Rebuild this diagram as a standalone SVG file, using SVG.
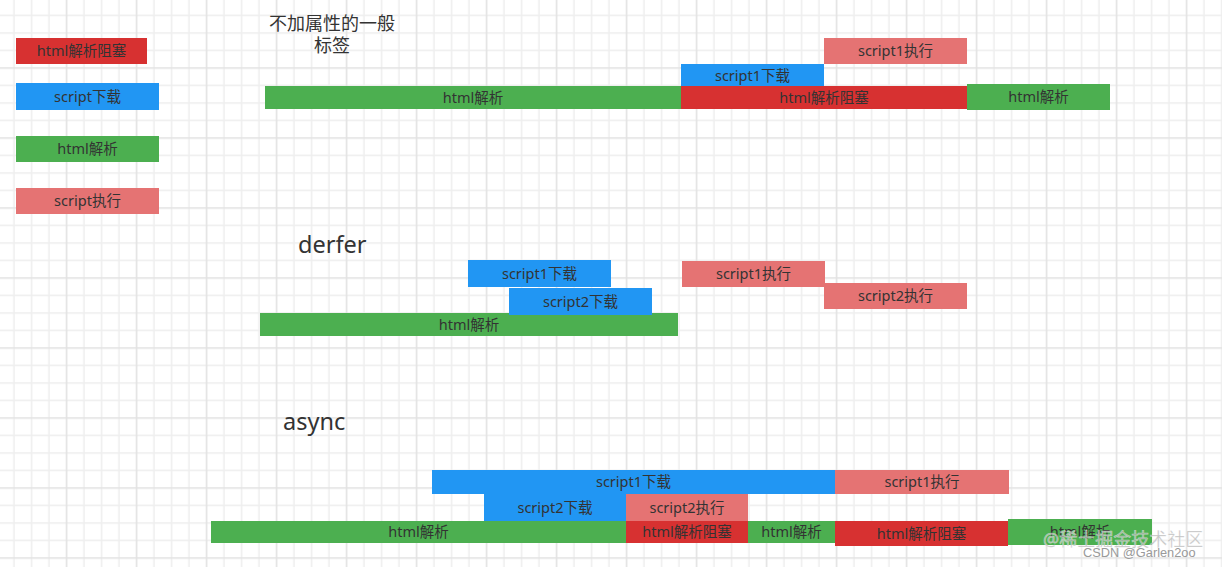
<svg xmlns="http://www.w3.org/2000/svg" width="1222" height="567" viewBox="0 0 1222 567">
<style>
.t{font-family:"Noto Sans","Noto Sans CJK SC",sans-serif;font-size:14.5px;fill:#333;text-anchor:middle}
.red{fill:#d73131}
.blue{fill:#2196f3}
.green{fill:#4caf50}
.pink{fill:#e57373}
.title{font-family:"Noto Sans","Noto Sans CJK SC",sans-serif;fill:#333}
</style>
<defs>
<pattern id="grid" patternUnits="userSpaceOnUse" x="-12.25" y="-10.75" width="70" height="70">
<path d="M26.25 0V70M43.75 0V70M61.25 0V70M0 26.25H70M0 43.75H70M0 61.25H70" stroke="#eeeeee" stroke-width="1.5" fill="none"/>
<path d="M8.75 0V70M0 8.75H70" stroke="#e2e2e2" stroke-width="1.6" fill="none"/>
</pattern>
</defs>
<rect width="1222" height="567" fill="#ffffff"/>
<rect width="1222" height="567" fill="url(#grid)"/>

<g id="legend">
<g id="legend-block"><rect class="red" x="16" y="38" width="131" height="26"/><text class="t" x="81.5" y="56">html解析阻塞</text></g>
<g id="legend-download"><rect class="blue" x="16" y="83" width="143" height="27"/><text class="t" x="87.5" y="101.5">script下载</text></g>
<g id="legend-parse"><rect class="green" x="16" y="136" width="143" height="26"/><text class="t" x="87.5" y="154">html解析</text></g>
<g id="legend-exec"><rect class="pink" x="16" y="188" width="143" height="26"/><text class="t" x="87.5" y="206">script执行</text></g>
</g>

<g id="section-normal">
<text class="title" x="332" y="30" font-size="18" text-anchor="middle">不加属性的一般</text>
<text class="title" x="332" y="52" font-size="18" text-anchor="middle">标签</text>
<g id="n-parse1"><rect class="green" x="265" y="86" width="416" height="23"/><text class="t" x="473" y="102.5">html解析</text></g>
<g id="n-dl1"><rect class="blue" x="681" y="64" width="143" height="22"/><text class="t" x="752.5" y="81">script1下载</text></g>
<g id="n-block"><rect class="red" x="681" y="86" width="286" height="23"/><text class="t" x="824" y="102.5">html解析阻塞</text></g>
<g id="n-exec1"><rect class="pink" x="824" y="38" width="143" height="26"/><text class="t" x="895.5" y="56">script1执行</text></g>
<g id="n-parse2"><rect class="green" x="967" y="84" width="143" height="26"/><text class="t" x="1038.5" y="102">html解析</text></g>
</g>

<g id="section-defer">
<text class="title" x="298" y="253" font-size="23.5">derfer</text>
<g id="d-parse"><rect class="green" x="260" y="313" width="418" height="23"/><text class="t" x="469" y="329.5">html解析</text></g>
<g id="d-dl1"><rect class="blue" x="468" y="260" width="143" height="27"/><text class="t" x="539.5" y="278.5">script1下载</text></g>
<g id="d-dl2"><rect class="blue" x="509" y="288" width="143" height="27"/><text class="t" x="580.5" y="306.5">script2下载</text></g>
<g id="d-exec1"><rect class="pink" x="682" y="261" width="143" height="26"/><text class="t" x="753.5" y="279">script1执行</text></g>
<g id="d-exec2"><rect class="pink" x="824" y="283" width="143" height="26"/><text class="t" x="895.5" y="301">script2执行</text></g>
</g>

<g id="section-async">
<text class="title" x="283" y="430" font-size="23.5">async</text>
<g id="a-dl1"><rect class="blue" x="432" y="470" width="403" height="24"/><text class="t" x="633.5" y="487">script1下载</text></g>
<g id="a-exec1"><rect class="pink" x="835" y="470" width="174" height="24"/><text class="t" x="922" y="487">script1执行</text></g>
<g id="a-dl2"><rect class="blue" x="484" y="494" width="142" height="27"/><text class="t" x="555" y="512.5">script2下载</text></g>
<g id="a-exec2"><rect class="pink" x="626" y="494" width="122" height="27"/><text class="t" x="687" y="512.5">script2执行</text></g>
<g id="a-parse1"><rect class="green" x="211" y="521" width="415" height="22"/><text class="t" x="418.5" y="537">html解析</text></g>
<g id="a-block1"><rect class="red" x="626" y="521" width="122" height="22"/><text class="t" x="687" y="537">html解析阻塞</text></g>
<g id="a-parse2"><rect class="green" x="748" y="521" width="87" height="22"/><text class="t" x="791.5" y="537">html解析</text></g>
<g id="a-block2"><rect class="red" x="835" y="521" width="173" height="25"/><text class="t" x="921.5" y="538.5">html解析阻塞</text></g>
<g id="a-parse3"><rect class="green" x="1008" y="519" width="144" height="26"/><text class="t" x="1080" y="537">html解析</text></g>
</g>

<g id="connectors"></g>

<g id="watermark">
<text x="1043" y="546" font-family="'Noto Sans','Noto Sans CJK SC',sans-serif" font-size="18" fill="#b0b0b0" fill-opacity="0.75" stroke="#ffffff" stroke-opacity="0.5" stroke-width="0.6">@稀土掘金技术社区</text>
<text x="1083" y="557" font-family="'Liberation Sans',sans-serif" font-size="12.8" fill="#9a9a9a">CSDN @Garlen2oo</text>
</g>
</svg>
